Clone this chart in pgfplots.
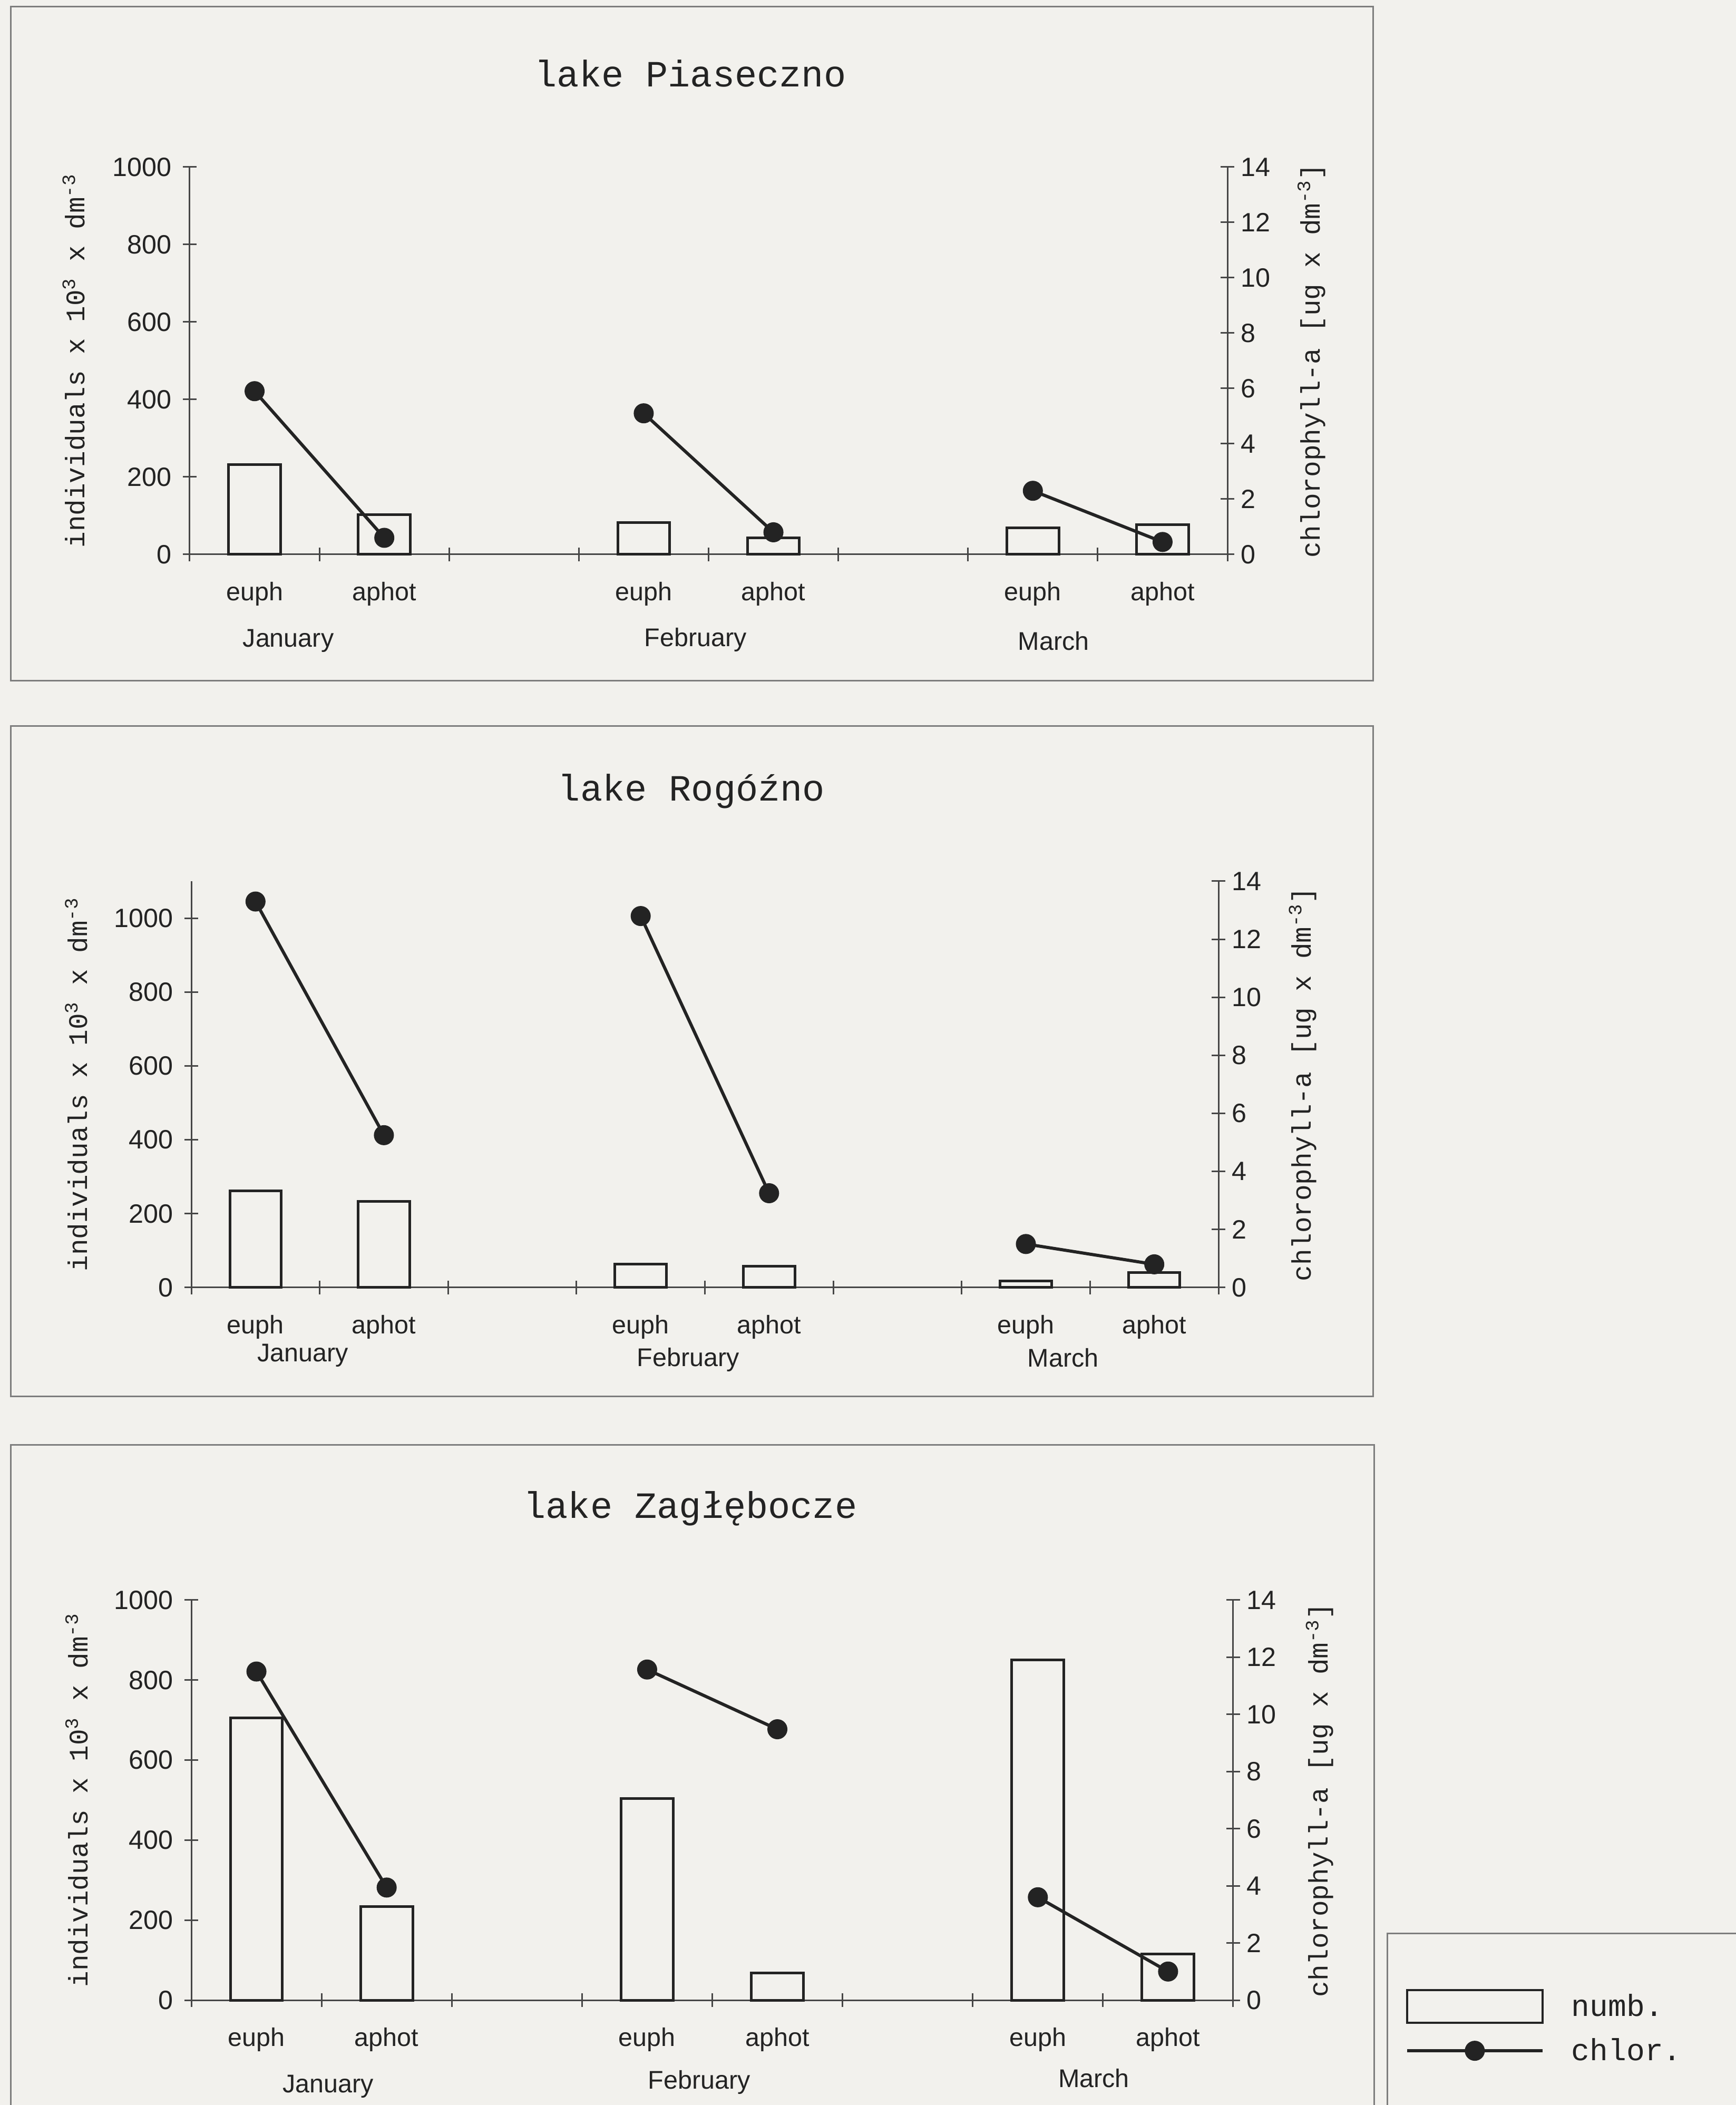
\documentclass[border=0pt]{standalone}
\usepackage{fontspec}
\setmainfont{Liberation Sans}
\newfontfamily\cour{Liberation Mono}
\usepackage{pgfplots}
\pgfplotsset{compat=1.18}
\definecolor{paper}{RGB}{242,241,237}
\definecolor{ink}{RGB}{35,35,35}
\definecolor{axisc}{RGB}{70,70,70}
\definecolor{framec}{RGB}{125,125,125}
\newcommand{\tickfont}{\fontsize{14.3}{16}\selectfont}
\newcommand{\catfont}{\fontsize{13.8}{15}\selectfont}
\newcommand{\labfont}{\cour\fontsize{14.5}{16}\selectfont}
\newcommand{\titlefont}{\cour\fontsize{20}{22}\selectfont}
\pgfplotsset{
  lakebase/.style={
    scale only axis, anchor=south west, clip=false,
    xmin=0, xmax=8,
    axis line style={axisc, line width=0.3mm},
    every tick/.style={axisc, line width=0.3mm},
    tick label style={font=\tickfont, text=ink},
    /pgf/number format/assume math mode=true,
    /pgf/number format/1000 sep={},
  },
  barsaxis/.style={lakebase, axis x line*=bottom, axis y line*=left,
    tick align=center, major tick length=2.6mm,
    yticklabel style={xshift=-0.9mm},
    xtick={0,...,8}, xticklabels={},
    extra x ticks={0.5,1.5,3.5,4.5,6.5,7.5},
    extra x tick labels={euph,aphot,euph,aphot,euph,aphot},
    extra x tick style={major tick length=0pt, xticklabel style={anchor=center, yshift=-7.5mm, font=\catfont}},
    ymin=0, ytick={0,200,...,1000},
  },
  chloraxis/.style={lakebase, axis x line=none, axis y line*=right,
    tick align=center, major tick length=2.6mm,
    ymin=0, ymax=14, ytick={0,2,...,14}},
  numb/.style={ybar, bar width=0.4, draw=ink, line width=0.5mm, fill=paper},
  chlor/.style={ink, line width=0.6mm, mark=*, mark size=1.6mm, mark options={fill=ink, solid}, forget plot},
  boxlegend/.style={legend image code/.code={\draw[draw=ink, line width=0.4mm, fill=none] (0mm,-3.1mm) rectangle (25.7mm,3.1mm);}},
  dotlegend/.style={legend image code/.code={\draw[mark repeat=2, mark phase=2, ##1] plot coordinates {(0mm,0mm) (12.85mm,0mm) (25.7mm,0mm)};}},
}
\newcommand{\leftlab}{individuals x 10\textsuperscript{3} x dm\textsuperscript{-3}}
\newcommand{\rightlab}{chlorophyll-a [ug x dm\textsuperscript{-3}]}

\begin{document}
\begin{tikzpicture}
\path[use as bounding box] (0,0) rectangle (329.4mm,399.4mm);
\clip (0,0) rectangle (329.4mm,399.4mm);
\fill[paper] (0,0) rectangle (329.4mm,399.4mm);

% frames
\draw[framec, line width=0.3mm] (2.0mm,270.2mm) rectangle (260.5mm,398.1mm);
\draw[framec, line width=0.3mm] (2.0mm,134.4mm) rectangle (260.5mm,261.6mm);
\draw[framec, line width=0.3mm] (2.0mm,-2mm) -- (2.0mm,125.2mm) -- (260.7mm,125.2mm) -- (260.7mm,-2mm);
\draw[framec, line width=0.3mm] (263.2mm,-2mm) -- (263.2mm,32.5mm) -- (332mm,32.5mm);

% titles
\node[font=\titlefont, text=ink] at (131.0mm,385.5mm) {lake Piaseczno};
\node[font=\titlefont, text=ink] at (131.2mm,249.3mm) {lake Rogóźno};
\node[font=\titlefont, text=ink] at (131.0mm,113.2mm) {lake Zagłębocze};

% ===== Chart 1: Piaseczno =====
\begin{axis}[barsaxis, at={(36.0mm,294.2mm)}, width=196.9mm, height=73.5mm, ymax=1000,
  ylabel={\leftlab},
  every axis y label/.style={at={(axis description cs:-0.1117,0.5)}, rotate=90, anchor=center, font=\labfont, text=ink}]
\addplot[numb] coordinates {(0.5,232) (1.5,103) (3.5,82) (4.5,43) (6.5,69) (7.5,77)};
\node[font=\catfont, text=ink, yshift=-16.4mm] at (axis cs:0.76,0) {January};
\node[font=\catfont, text=ink, yshift=-16.2mm] at (axis cs:3.90,0) {February};
\node[font=\catfont, text=ink, yshift=-16.4mm] at (axis cs:6.66,0) {March};
\end{axis}
\begin{axis}[chloraxis, at={(36.0mm,294.2mm)}, width=196.9mm, height=73.5mm,
  ylabel={\rightlab},
  every axis y label/.style={at={(axis description cs:1.081,0.5)}, rotate=90, anchor=center, font=\labfont, text=ink}]
\addplot[chlor] coordinates {(0.5,5.9) (1.5,0.6)};
\addplot[chlor] coordinates {(3.5,5.1) (4.5,0.8)};
\addplot[chlor] coordinates {(6.5,2.3) (7.5,0.45)};
\end{axis}

% ===== Chart 2: Rogozno =====
\begin{axis}[barsaxis, at={(36.3mm,155.1mm)}, width=194.9mm, height=77.1mm, ymax=1100,
  ylabel={\leftlab},
  every axis y label/.style={at={(axis description cs:-0.112,0.5)}, rotate=90, anchor=center, font=\labfont, text=ink}]
\addplot[numb] coordinates {(0.5,262) (1.5,233) (3.5,64) (4.5,58) (6.5,18) (7.5,40)};
\node[font=\catfont, text=ink, yshift=-12.9mm] at (axis cs:0.87,0) {January};
\node[font=\catfont, text=ink, yshift=-13.7mm] at (axis cs:3.87,0) {February};
\node[font=\catfont, text=ink, yshift=-13.3mm] at (axis cs:6.79,0) {March};
\end{axis}
\begin{axis}[chloraxis, at={(36.3mm,155.1mm)}, width=194.9mm, height=77.1mm,
  ylabel={\rightlab},
  every axis y label/.style={at={(axis description cs:1.082,0.5)}, rotate=90, anchor=center, font=\labfont, text=ink}]
\addplot[chlor] coordinates {(0.5,13.3) (1.5,5.25)};
\addplot[chlor] coordinates {(3.5,12.8) (4.5,3.25)};
\addplot[chlor] coordinates {(6.5,1.5) (7.5,0.8)};
\end{axis}

% ===== Chart 3: Zaglebocze =====
\begin{axis}[barsaxis, at={(36.3mm,19.9mm)}, width=197.7mm, height=75.9mm, ymax=1000,
  ylabel={\leftlab},
  every axis y label/.style={at={(axis description cs:-0.110,0.5)}, rotate=90, anchor=center, font=\labfont, text=ink}]
\addplot[numb] coordinates {(0.5,705) (1.5,234) (3.5,504) (4.5,68) (6.5,851) (7.5,115)};
\node[font=\catfont, text=ink, yshift=-16.4mm] at (axis cs:1.05,0) {January};
\node[font=\catfont, text=ink, yshift=-15.6mm] at (axis cs:3.90,0) {February};
\node[font=\catfont, text=ink, yshift=-14.8mm] at (axis cs:6.93,0) {March};
\end{axis}
\begin{axis}[chloraxis, at={(36.3mm,19.9mm)}, width=197.7mm, height=75.9mm,
  ylabel={\rightlab},
  every axis y label/.style={at={(axis description cs:1.083,0.5)}, rotate=90, anchor=center, font=\labfont, text=ink},
  legend style={at={(axis description cs:1.165,0.028)}, anchor=north west, draw=none, fill=none,
    inner sep=0pt, font=\cour\fontsize{16.5}{18}\selectfont, text=ink, row sep=2mm,
    /tikz/every odd column/.append style={column sep=4.5mm}},
  legend cell align=left]
\addlegendimage{boxlegend}
\addlegendentry{numb.}
\addlegendimage{dotlegend, ink, line width=0.6mm, mark=*, mark size=1.6mm, mark options={fill=ink}}
\addlegendentry{chlor.}
\addplot[chlor] coordinates {(0.5,11.5) (1.5,3.94)};
\addplot[chlor] coordinates {(3.5,11.57) (4.5,9.48)};
\addplot[chlor] coordinates {(6.5,3.6) (7.5,1.0)};
\end{axis}
\end{tikzpicture}
\end{document}
